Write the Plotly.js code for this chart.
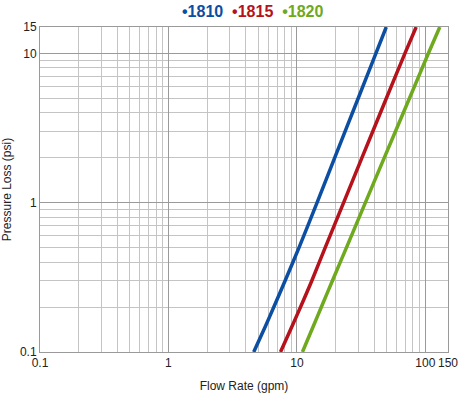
<!DOCTYPE html>
<html><head><meta charset="utf-8">
<script src="https://cdn.plot.ly/plotly-3.0.1.min.js"></script>
<style>html,body{margin:0;padding:0;background:#fff}#chart{width:460px;height:393px}</style>
</head><body><div id="chart"></div>
<script>
const seriesNames = ["1810", "1815", "1820"];
const seriesColors = ["#0b4ea2", "#b5121b", "#6ea91e"];
const pressure = [0.1, 0.15, 0.2, 0.3, 0.5, 1, 2, 5, 10, 15];
const flow1810 = [4.61, 5.71, 6.61, 8.09, 10.38, 14.35, 19.7, 30.0, 41.2, 49.6];
const flow1815 = [7.45, 9.2, 10.67, 13.06, 16.6, 23.1, 32.1, 49.7, 69.3, 84.8];
const flow1820 = [11.04, 13.46, 15.5, 18.9, 24.3, 34.1, 47.9, 75.2, 105.6, 129.5];
const xMajorTicks = [0.1, 1, 10, 100, 150];
const xTickLabels = ["0.1", "1", "10", "100", "150"];
const yMajorTicks = [0.1, 1, 10, 15];
const yTickLabels = ["0.1", "1", "10", "15"];
const minorTicks = [0.2,0.3,0.4,0.5,0.6,0.7,0.8,0.9,2,3,4,5,6,7,8,9,20,30,40,50,60,70,80,90];

const flows = [flow1810, flow1815, flow1820];
const traces = flows.map((f, i) => ({
  x: f, y: pressure, type: "scatter", mode: "lines", name: seriesNames[i],
  line: {color: seriesColors[i], width: 3.5, shape: "spline", smoothing: 0.8},
  hoverinfo: "none"
}));

const font = "'Liberation Sans', Arial, sans-serif";
const legendText = seriesNames.map((n, i) =>
  `<span style="color:${seriesColors[i]}"><b>•${n}</b></span>`).join("  ");

const layout = {
  width: 460, height: 393,
  margin: {l: 40, r: 12, t: 27, b: 41},
  paper_bgcolor: "#fff", plot_bgcolor: "#fff",
  showlegend: false,
  font: {family: font, size: 12, color: "#222"},
  xaxis: {
    type: "log", range: [-1, Math.log10(150)],
    tickvals: xMajorTicks, ticktext: xTickLabels, tickangle: 0,
    showgrid: true, gridcolor: "#9a9a9a", gridwidth: 1,
    minor: {tickvals: minorTicks, showgrid: true, gridcolor: "#c4c4c4", gridwidth: 1, ticks: ""},
    showline: true, linecolor: "#9a9a9a", mirror: true, zeroline: false,
    ticks: "", ticklen: 0,
    tickfont: {family: font, size: 12, color: "#222"},
    title: {text: "Flow Rate (gpm)", font: {family: font, size: 12, color: "#222"}, standoff: 12}
  },
  yaxis: {
    type: "log", range: [-1, Math.log10(15)],
    tickvals: yMajorTicks, ticktext: yTickLabels, tickangle: 0,
    showgrid: true, gridcolor: "#9a9a9a", gridwidth: 1,
    minor: {tickvals: minorTicks, showgrid: true, gridcolor: "#c4c4c4", gridwidth: 1, ticks: ""},
    showline: true, linecolor: "#9a9a9a", mirror: true, zeroline: false,
    ticks: "", ticklen: 0,
    tickfont: {family: font, size: 12, color: "#222"},
    title: {text: "Pressure Loss (psi)", font: {family: font, size: 12, color: "#222"}, standoff: 8}
  },
  annotations: [{
    xref: "paper", yref: "paper", x: 0.52, y: 1, yanchor: "bottom", xanchor: "center",
    yshift: 5, showarrow: false, text: legendText,
    font: {family: font, size: 16}
  }]
};
Plotly.newPlot("chart", traces, layout, {displayModeBar: false, staticPlot: true});
</script></body></html>
